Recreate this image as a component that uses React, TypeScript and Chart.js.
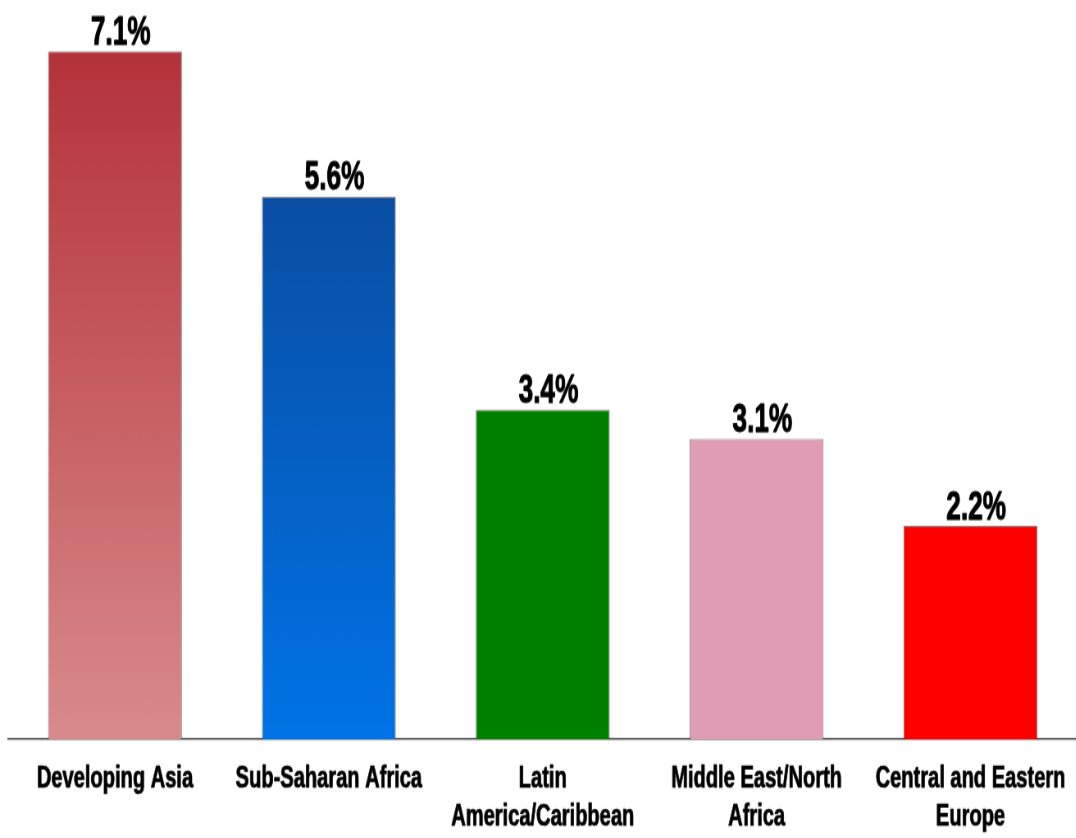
import React, { useEffect, useRef } from 'react';
import { Chart, registerables } from 'chart.js';

Chart.register(...registerables);

const categories: string[][] = [
  ['Developing Asia'],
  ['Sub-Saharan Africa'],
  ['Latin', 'America/Caribbean'],
  ['Middle East/North', 'Africa'],
  ['Central and Eastern', 'Europe'],
];
const values: number[] = [7.1, 5.6, 3.4, 3.1, 2.2];
const valueLabels: string[] = ['7.1%', '5.6%', '3.4%', '3.1%', '2.2%'];
const topColors: string[] = ['#b4323a', '#0a4ea3', '#008000', '#e09bb5', '#ff0000'];
const bottomColors: string[] = ['#d98b8b', '#0073e6', '#008000', '#e09bb5', '#ff0000'];

const FONT = "'Liberation Sans', Arial, sans-serif";
// The reference uses a tall, narrow bold face; emulate it by scaling the canvas.
const SX = 0.82;
const SY = 1.27;
const W = 1316;
const H = 660;

const valueLabelPlugin = {
  id: 'valueLabels',
  afterDatasetsDraw(chart: any) {
    const ctx = chart.ctx;
    const meta = chart.getDatasetMeta(0);
    ctx.save();
    ctx.font = `bold 32px ${FONT}`;
    ctx.fillStyle = '#000';
    ctx.strokeStyle = '#000';
    ctx.lineWidth = 0.9;
    ctx.lineJoin = 'round';
    ctx.textAlign = 'center';
    ctx.textBaseline = 'alphabetic';
    meta.data.forEach((bar: any, i: number) => {
      const x = bar.x + 7;
      const y = bar.y - 5.5;
      ctx.fillText(valueLabels[i], x, y);
      ctx.strokeText(valueLabels[i], x, y);
    });
    ctx.restore();
  },
};

export default function App() {
  const canvasRef = useRef<HTMLCanvasElement | null>(null);

  useEffect(() => {
    document.body.style.margin = '0';
    const canvas = canvasRef.current;
    if (!canvas) return;
    const chart = new Chart(canvas, {
      type: 'bar',
      data: {
        labels: categories,
        datasets: [
          {
            data: values,
            backgroundColor: (c: any) => {
              const i = c.dataIndex;
              const chartObj = c.chart;
              const area = chartObj.chartArea;
              if (!area || i === undefined) return topColors[i ?? 0];
              const yScale = chartObj.scales.y;
              const top = yScale.getPixelForValue(values[i]);
              const bottom = yScale.getPixelForValue(0);
              const g = chartObj.ctx.createLinearGradient(0, top, 0, bottom);
              g.addColorStop(0, topColors[i]);
              g.addColorStop(1, bottomColors[i]);
              return g;
            },
            borderColor: 'rgba(40,0,0,0.5)',
            borderWidth: 1,
            borderSkipped: 'bottom',
            categoryPercentage: 1,
            barPercentage: 0.626,
          },
        ],
      },
      options: {
        animation: false,
        responsive: false,
        devicePixelRatio: 1,
        layout: { padding: { top: 40.2, left: 9.8, right: 1.4, bottom: 0 } },
        plugins: {
          legend: { display: false },
          tooltip: { enabled: false },
        },
        scales: {
          x: {
            grid: { display: false, drawTicks: false },
            border: { display: true, color: '#555', width: 1.5 },
            ticks: {
              color: '#000',
              padding: 16.6,
              maxRotation: 0,
              autoSkip: false,
              textStrokeColor: '#000',
              textStrokeWidth: 0.7,
              font: { family: FONT, size: 24.5, weight: 'bold', lineHeight: '30px' },
            },
            afterFit: (scale: any) => {
              scale.height = H - 581.9;
            },
          },
          y: {
            display: false,
            min: 0,
            max: 7.1,
          },
        },
      },
      plugins: [valueLabelPlugin],
    });
    return () => chart.destroy();
  }, []);

  return (
    <div style={{ width: 1076, height: 838, overflow: 'hidden', background: '#fff' }}>
      <div
        style={{
          width: W,
          height: H,
          transform: `scale(${SX}, ${SY})`,
          transformOrigin: 'top left',
        }}
      >
        <canvas ref={canvasRef} width={W} height={H} style={{ display: 'block', width: W, height: H }} />
      </div>
    </div>
  );
}
